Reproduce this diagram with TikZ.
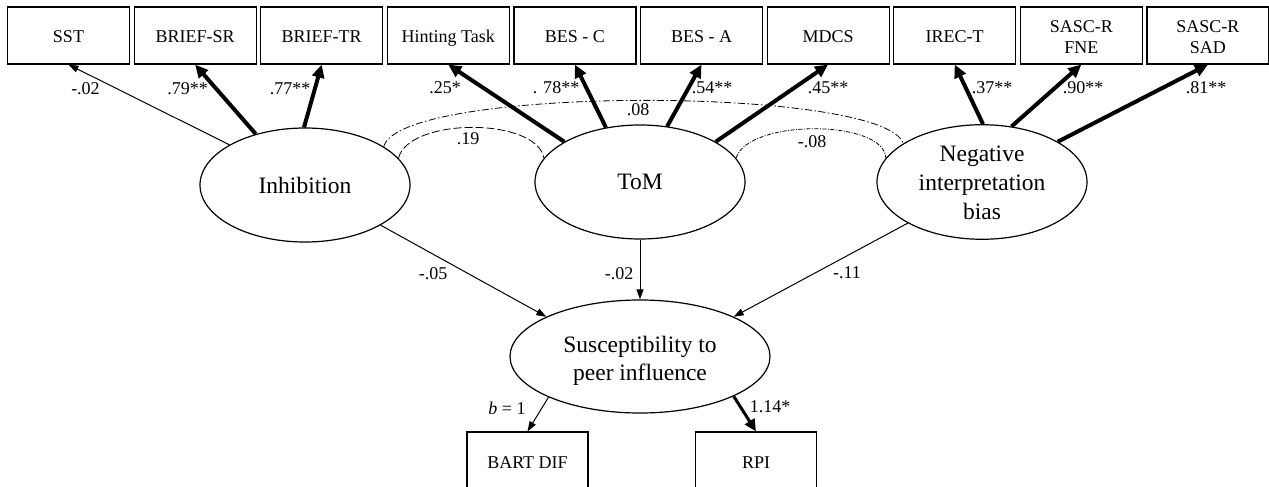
\documentclass[tikz,border=0pt]{standalone}
\usepackage{fontspec}
\setmainfont{Liberation Serif}
\usetikzlibrary{arrows.meta,shapes.geometric}
\begin{document}
\begin{tikzpicture}[x=1pt,y=-1pt,
  obs/.style={draw, line width=1.2pt, rectangle, minimum width=122pt, minimum height=57pt, inner sep=0pt, align=center, font=\fontsize{18}{21}\selectfont},
  one/.style={text height=14pt, text depth=0pt},
  lat/.style={draw, line width=1.2pt, ellipse, minimum width=210pt, minimum height=114pt, inner sep=0pt, align=center, font=\fontsize{23.5}{29}\selectfont},
  weak/.style={line width=1pt, -{Triangle[length=10pt,width=7pt]}},
  strong/.style={line width=4pt, -{Triangle[length=13pt,width=12pt]}},
  lab/.style={font=\fontsize{18}{21}\selectfont, inner sep=0pt},
  cor/.style={line width=0.8pt}
]
\useasboundingbox (0,0) rectangle (1269,487);
\fill[white] (0,0) rectangle (1269,487);

% observed indicators
\node[obs,one] (sst)     at (68.5,35.5)  {SST};
\node[obs,one] (briefsr) at (195.1,35.5) {BRIEF-SR};
\node[obs,one] (brieftr) at (321.7,35.5) {BRIEF-TR};
\node[obs,one] (hint)    at (448.3,35.5) {Hinting Task};
\node[obs,one] (besc)    at (574.9,35.5) {BES - C};
\node[obs,one] (besa)    at (701.5,35.5) {BES - A};
\node[obs,one] (mdcs)    at (828.1,35.5) {MDCS};
\node[obs,one] (irec)    at (954.7,35.5) {IREC-T};
\node[obs] (fne)     at (1081.3,35.5) {\raisebox{-3pt}[\height][\depth]{\begin{tabular}{@{}c@{}}SASC-R\\FNE\end{tabular}}};
\node[obs] (sad)     at (1207.9,35.5) {\raisebox{-3pt}[\height][\depth]{\begin{tabular}{@{}c@{}}SASC-R\\SAD\end{tabular}}};

% latent variables
\node[lat] (inh) at (305,185) {Inhibition};
\node[lat] (tom) at (640,182) {ToM};
\node[lat, inner sep=-3pt] (nib) at (982,182) {\raisebox{-2.5pt}[\height][\depth]{\begin{tabular}{@{}c@{}}Negative\\interpretation\\bias\end{tabular}}};
\node[lat, minimum width=260pt, minimum height=113pt, font=\fontsize{23.5}{28}\selectfont] (sus) at (640,356.5) {\raisebox{-4pt}[\height][\depth]{\begin{tabular}{@{}c@{}}Susceptibility to\\peer influence\end{tabular}}};

% outcome indicators
\node[obs,one, minimum width=121pt, minimum height=58pt] (bart) at (527.5,461) {BART DIF};
\node[obs,one, minimum width=121pt, minimum height=58pt] (rpi)  at (756,461) {RPI};

% loadings
\draw[weak]   (inh.152) -- (sst.south);
\draw[strong] (inh.134) -- (briefsr.south);
\draw[strong] (inh.91)  -- (brieftr.south);
\draw[strong] (tom.152) -- (hint.south);
\draw[strong] (tom.122) -- (besc.south);
\draw[strong] (tom.64)  -- (besa.south);
\draw[strong] (tom.28)  -- (mdcs.south);
\draw[strong] (nib.89)  -- (irec.south);
\draw[strong] (nib.62)  -- (fne.south);
\draw[strong] (nib.28)  -- (sad.south);

% structural paths
\draw[weak] (inh.-28) -- (sus.157);
\draw[weak] (tom.south) -- (sus.north);
\draw[weak] (nib.209) -- (sus.23);
\draw[weak] (sus.204) -- (bart.north);
\draw[line width=3pt, -{Triangle[length=12pt,width=11pt]}] (sus.-23.5) -- (rpi.north);

% correlations
\draw[cor, dash pattern=on 7pt off 2.5pt on 1.5pt off 2.5pt] (inh.26) .. controls +(75:64pt) and +(107:60pt) .. (nib.154);
\draw[cor, dash pattern=on 8pt off 3pt] (inh.16) .. controls +(76:42pt) and +(101:42pt) .. (tom.166);
\draw[cor, dash pattern=on 4pt off 1.5pt on 1pt off 1.5pt] (tom.14) .. controls +(73:41pt) and +(93:39pt) .. (nib.166);

% labels
\node[lab] at (85.5,89)  {-.02};
\node[lab] at (187.5,89) {.79**};
\node[lab] at (290,89)   {.77**};
\node[lab] at (445,88)   {.25*};
\node[lab] at (556,88)   {. 78**};
\node[lab] at (712,88)   {.54**};
\node[lab] at (828,88)   {.45**};
\node[lab] at (992,88)   {.37**};
\node[lab] at (1083,88)  {.90**};
\node[lab] at (1206,88)  {.81**};
\node[lab] at (638,110)  {.08};
\node[lab] at (468,139)  {.19};
\node[lab] at (812,142)  {-.08};
\node[lab] at (433,274)  {-.05};
\node[lab] at (619,274)  {-.02};
\node[lab] at (847,273)  {-.11};
\node[lab] at (507,408)  {\itshape b\upshape\ = 1};
\node[lab] at (770,407)  {1.14*};
\end{tikzpicture}
\end{document}
